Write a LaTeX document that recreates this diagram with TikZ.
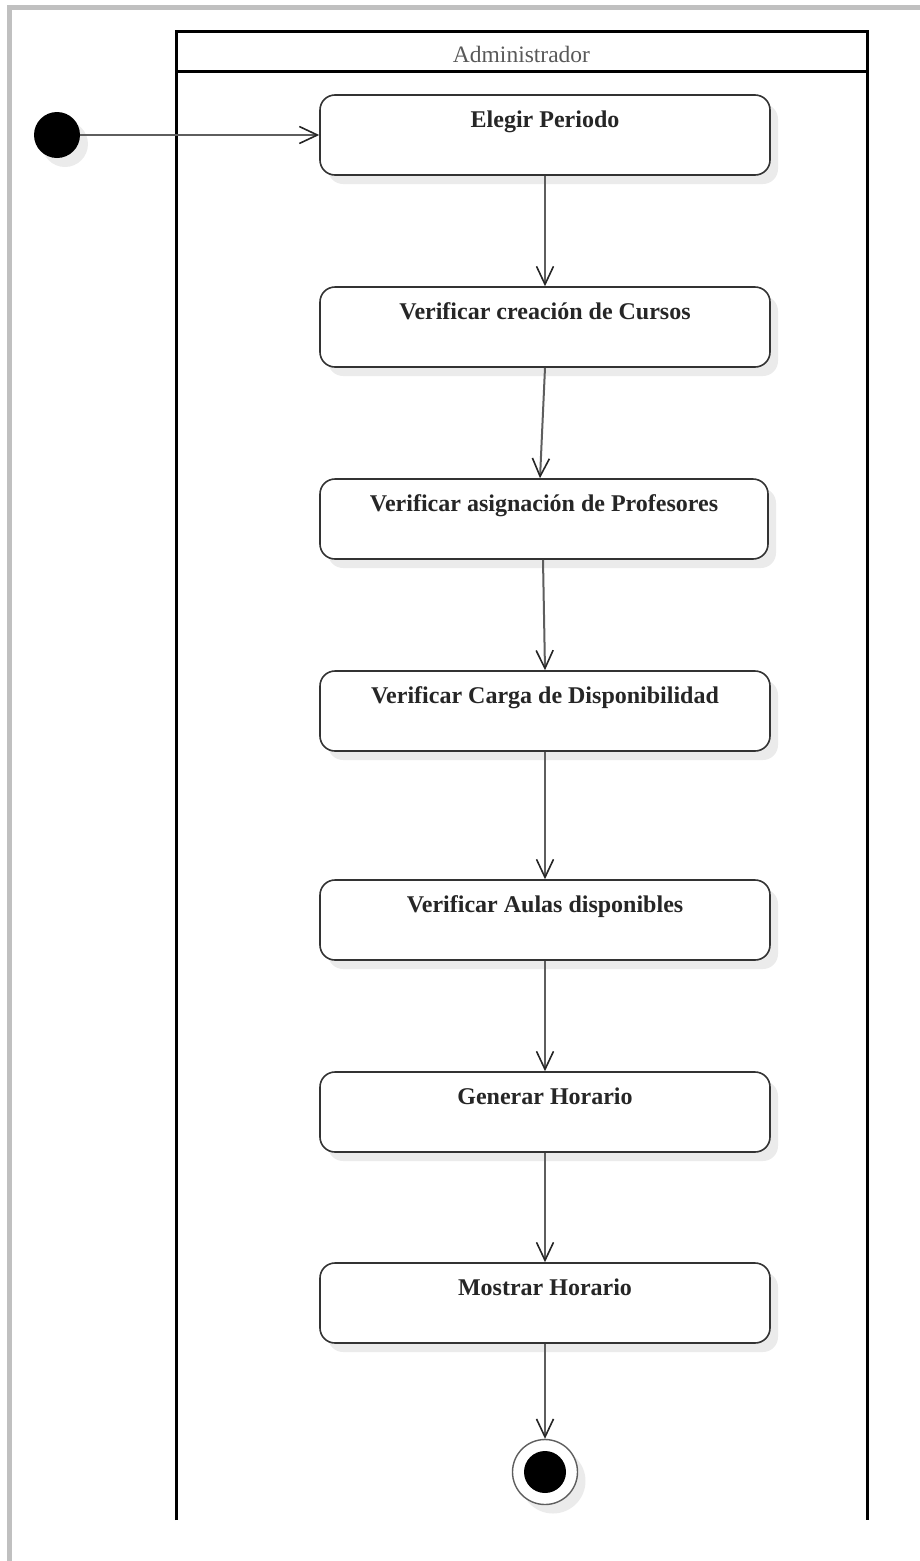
\documentclass[tikz,border=0pt]{standalone}
\usepackage{fontspec}
\setmainfont{Liberation Serif}
\usetikzlibrary{arrows.meta,shadows}
\definecolor{framegray}{HTML}{C0C0C0}
\definecolor{flowgray}{HTML}{5E5E5E}
\definecolor{edgegray}{HTML}{333333}
\definecolor{shadegray}{HTML}{EBEBEB}
\begin{document}
\begin{tikzpicture}[x=1pt,y=-1pt,
  soft/.style={drop shadow={shadow xshift=8pt,shadow yshift=-9pt,fill=shadegray,opacity=1}},
  act/.style={draw=edgegray,line width=1.6pt,rounded corners=15pt,
    minimum width=450pt,minimum height=80pt,inner sep=0pt,fill=white,soft},
  acttext/.style={anchor=base,font=\bfseries\fontsize{24}{28}\selectfont,text=black!85},
  flow/.style={draw=flowgray,line width=2pt,
    -{Straight Barb[length=18pt,width=17pt,line width=1.6pt,color=black!85]}},
  lane/.style={line width=3pt,draw=black},
  startdot/.style={circle,fill=black,minimum size=46pt,inner sep=0pt,soft},
  endring/.style={circle,draw=flowgray,line width=1.4pt,fill=white,minimum size=65pt,inner sep=0pt,soft},
  enddot/.style={circle,fill=black,minimum size=42pt,inner sep=0pt}]
\useasboundingbox (0,0) rectangle (920,1561);
% outer frame (top and left edges)
\fill[framegray] (7,5) rectangle (12,1561);
\fill[framegray] (7,5) rectangle (920,10);
% swimlane
\draw[lane] (176,1520) -- (176,31) -- (867,31) -- (867,1520);
\draw[lane] (176,71) -- (867,71);
\node[anchor=base,font=\fontsize{23.5}{27}\selectfont,text=black!65] (lanehead) at (521.5,62) {Administrador};
% activities
\node[act] (n1) at (545,135) {};
\node[act] (n2) at (545,327) {};
\node[act,minimum width=448pt] (n3) at (544,519) {};
\node[act] (n4) at (545,711) {};
\node[act] (n5) at (545,920) {};
\node[act] (n6) at (545,1112) {};
\node[act] (n7) at (545,1303) {};
\node[acttext] (t1) at ([yshift=-33pt]n1.north) {Elegir Periodo};
\node[acttext] (t2) at ([yshift=-33pt]n2.north) {Verificar creación de Cursos};
\node[acttext] (t3) at ([yshift=-33pt]n3.north) {Verificar asignación de Profesores};
\node[acttext] (t4) at ([yshift=-33pt]n4.north) {Verificar Carga de Disponibilidad};
\node[acttext] (t5) at ([yshift=-33pt]n5.north) {Verificar Aulas disponibles};
\node[acttext] (t6) at ([yshift=-33pt]n6.north) {Generar Horario};
\node[acttext] (t7) at ([yshift=-33pt]n7.north) {Mostrar Horario};
% initial and final states
\node[startdot] (start) at (57,135) {};
\node[endring] (stop) at (545,1472) {};
\node[enddot] (stopdot) at (stop.center) {};
% transitions
\draw[flow] (start) -- (n1.west);
\draw[flow] (n1.south) -- (n2.north);
\draw[flow] (n2.south) -- ([xshift=-4pt]n3.north);
\draw[flow] ([xshift=-1pt]n3.south) -- (n4.north);
\draw[flow] (n4.south) -- (n5.north);
\draw[flow] (n5.south) -- (n6.north);
\draw[flow] (n6.south) -- (n7.north);
\draw[flow] (n7.south) -- (stop.north);
\end{tikzpicture}
\end{document}
